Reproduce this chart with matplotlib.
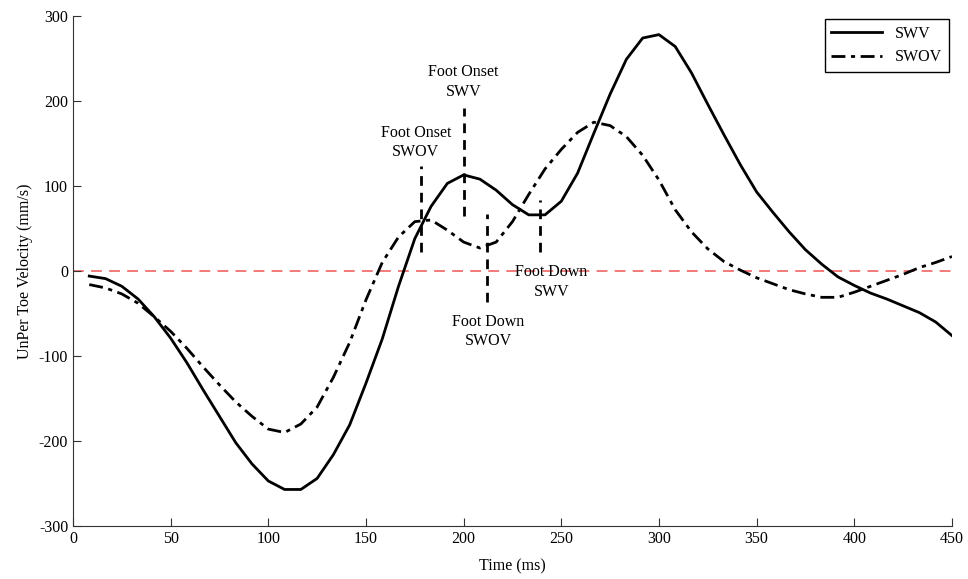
import numpy as np
import matplotlib
matplotlib.use('Agg')
import matplotlib.pyplot as plt

plt.rcParams['font.family'] = ['Liberation Serif', 'DejaVu Serif']
plt.rcParams['font.size'] = 11.5
plt.rcParams['axes.unicode_minus'] = False

# samples every 8.333 ms (120 Hz)
time_ms = np.arange(1, 55) * (450.0 / 54)

swv = [-6, -9, -18, -33, -54, -79, -108, -140, -171, -202,
       -227, -247, -257, -257, -244, -216, -181, -132, -80, -18,
       38, 76, 103, 113, 108, 95, 78, 66, 66, 82,
       115, 162, 208, 249, 274, 278, 264, 233, 196, 160,
       125, 93, 69, 46, 25, 8, -7, -17, -26, -33,
       -41, -49, -60, -76]

swov = [-16, -20, -27, -38, -54, -71, -91, -113, -134, -154,
        -171, -186, -190, -180, -160, -125, -84, -34, 10, 40,
        58, 60, 48, 34, 27, 34, 58, 90, 120, 143,
        163, 175, 171, 158, 136, 107, 72, 46, 26, 11,
        1, -8, -15, -22, -27, -31, -31, -25, -18, -11,
        -4, 4, 10, 17]

# event markers: x, ymin, ymax
event_x = [200, 178, 212, 239]
event_lo = [65, 22, -37, 22]
event_hi = [192, 123, 67, 84]

label_txt = ['Foot Onset\nSWV', 'Foot Onset\nSWOV', 'Foot Down\nSWOV', 'Foot Down\nSWV']
label_x = [200, 175.5, 212.5, 245]
label_y = [222, 151, -71, -13]

fig = plt.figure(figsize=(9.68, 5.79), dpi=100)
ax = fig.add_axes([0.0754, 0.0915, 0.908, 0.881])

ax.axhline(0, color='#f07070', linestyle=(0, (6, 4)), linewidth=1.3, zorder=1)
ax.plot(time_ms, swv, '-k', linewidth=2, label='SWV')
ax.plot(time_ms, swov, color='k', linestyle=(0, (5, 2, 1.5, 2)), linewidth=2, label='SWOV')

for x, lo, hi in zip(event_x, event_lo, event_hi):
    ax.plot([x, x], [lo, hi], color='k', linestyle=(0, (3.5, 2.5)), linewidth=2)

for t, x, y in zip(label_txt, label_x, label_y):
    ax.text(x, y, t, ha='center', va='center', linespacing=1.3)

ax.set_xlim(0, 450)
ax.set_ylim(-300, 300)
ax.set_xticks(np.arange(0, 451, 50))
ax.set_yticks(np.arange(-300, 301, 100))
ax.spines['top'].set_visible(False)
ax.spines['right'].set_visible(False)
for s in ['left', 'bottom']:
    ax.spines[s].set_color('#333333')
ax.tick_params(direction='in', length=6, color='#333333')

ax.set_xlabel('Time (ms)', labelpad=8)
ax.set_ylabel('UnPer Toe Velocity (mm/s)')

leg = ax.legend(loc='upper right', fancybox=False, edgecolor='k', framealpha=1,
                handlelength=3.2, borderaxespad=0.2)
leg.get_frame().set_linewidth(1)

fig.savefig('out.png', dpi=100)
